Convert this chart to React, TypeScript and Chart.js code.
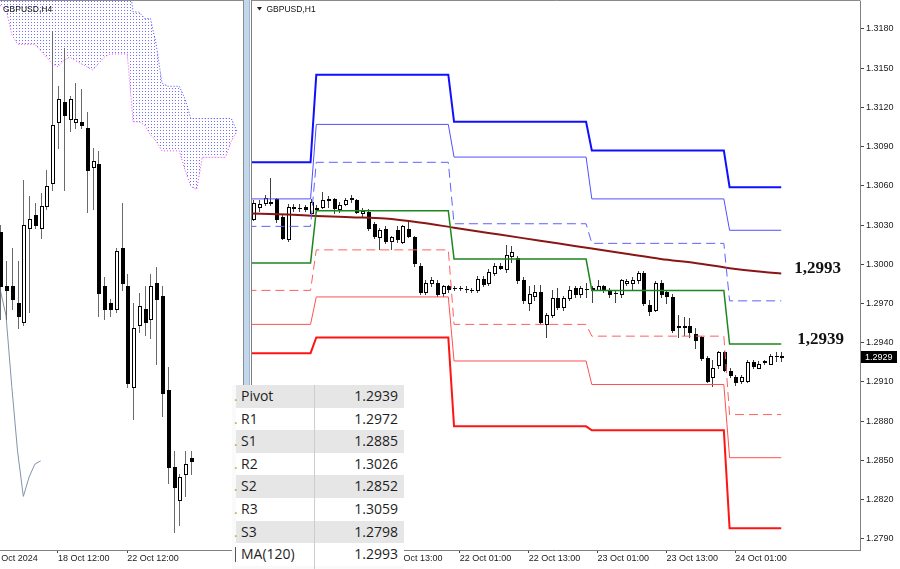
import React, { useEffect, useRef } from 'react';
import { Chart, registerables } from 'chart.js';
Chart.register(...registerables);

const SANS = '"Liberation Sans", Arial, sans-serif';

// ---------------- Right panel: GBPUSD,H1 (bar index 0 = 21 Oct 00:00) ----------------
const H1_FIRST = -11;
const H1_OPEN = [
  1.3035, 1.3044, 1.3047, 1.3047, 1.3050, 1.3036, 1.3019, 1.3043, 1.3043, 1.3044, 1.3039, 1.3042,
  1.3044, 1.3049, 1.3050, 1.3042, 1.3046, 1.3050, 1.3049, 1.3039, 1.3040, 1.3031, 1.3021, 1.3027,
  1.3018, 1.3026, 1.3017, 1.3027, 1.3021, 1.2999, 1.2979, 1.2986, 1.2986, 1.2978, 1.2983, 1.2982,
  1.2982, 1.2981, 1.2980, 1.2980, 1.2989, 1.2986, 1.2993, 1.2999, 1.2996, 1.3006, 1.3005, 1.2988,
  1.2970, 1.2976, 1.2979, 1.2954, 1.2961, 1.2974, 1.2967, 1.2974, 1.2982, 1.2977, 1.2981, 1.2982,
  1.2980, 1.2983, 1.2980, 1.2978, 1.2977, 1.2986, 1.2986, 1.2988, 1.2993, 1.2969, 1.2965, 1.2986,
  1.2979, 1.2975, 1.2953, 1.2952, 1.2953, 1.2947, 1.2944, 1.2928, 1.2914, 1.2923, 1.2933, 1.2918,
  1.2914, 1.2911, 1.2911, 1.2925, 1.2921, 1.2925, 1.2924, 1.2930, 1.2930,
];
const H1_HIGH = [
  1.3049, 1.3049, 1.3053, 1.3066, 1.3051, 1.3038, 1.3046, 1.3046, 1.3046, 1.3045, 1.3050, 1.3045,
  1.3055, 1.3052, 1.3051, 1.3048, 1.3051, 1.3053, 1.3050, 1.3043, 1.3042, 1.3032, 1.3028, 1.3029,
  1.3022, 1.3029, 1.3030, 1.3032, 1.3022, 1.3001, 1.2988, 1.2990, 1.2988, 1.2984, 1.2984, 1.2983,
  1.2983, 1.2983, 1.2982, 1.2991, 1.2991, 1.2996, 1.3001, 1.3001, 1.3015, 1.3014, 1.3006, 1.2990,
  1.2983, 1.2984, 1.2984, 1.2963, 1.2980, 1.2982, 1.2976, 1.2983, 1.2983, 1.2983, 1.2986, 1.2983,
  1.2988, 1.2984, 1.2982, 1.2980, 1.2989, 1.2989, 1.2990, 1.2995, 1.2995, 1.2973, 1.2987, 1.2988,
  1.2980, 1.2977, 1.2961, 1.2960, 1.2959, 1.2951, 1.2945, 1.2930, 1.2927, 1.2934, 1.2934, 1.2921,
  1.2915, 1.2915, 1.2927, 1.2927, 1.2926, 1.2927, 1.2931, 1.2933, 1.2933,
];
const H1_LOW = [
  1.3034, 1.3041, 1.3045, 1.3045, 1.3032, 1.3019, 1.3018, 1.3041, 1.3041, 1.3041, 1.3038, 1.3040,
  1.3043, 1.3044, 1.3039, 1.3040, 1.3045, 1.3048, 1.3039, 1.3037, 1.3026, 1.3020, 1.3012, 1.3016,
  1.3012, 1.3017, 1.3016, 1.3021, 1.2999, 1.2977, 1.2977, 1.2983, 1.2976, 1.2976, 1.2979, 1.2980,
  1.2980, 1.2979, 1.2979, 1.2979, 1.2983, 1.2984, 1.2992, 1.2996, 1.2994, 1.3002, 1.2986, 1.2970,
  1.2965, 1.2973, 1.2954, 1.2944, 1.2960, 1.2966, 1.2965, 1.2973, 1.2975, 1.2975, 1.2975, 1.2971,
  1.2980, 1.2979, 1.2975, 1.2971, 1.2975, 1.2984, 1.2980, 1.2986, 1.2969, 1.2961, 1.2964, 1.2975,
  1.2970, 1.2948, 1.2944, 1.2946, 1.2944, 1.2936, 1.2927, 1.2910, 1.2907, 1.2921, 1.2918, 1.2914,
  1.2908, 1.2909, 1.2910, 1.2921, 1.2921, 1.2924, 1.2924, 1.2926, 1.2926,
];
const H1_CLOSE = [
  1.3047, 1.3046, 1.3051, 1.3048, 1.3035, 1.3020, 1.3044, 1.3044, 1.3043, 1.3042, 1.3048, 1.3043,
  1.3049, 1.3050, 1.3043, 1.3045, 1.3049, 1.3051, 1.3040, 1.3041, 1.3028, 1.3022, 1.3026, 1.3018,
  1.3021, 1.3019, 1.3029, 1.3022, 1.3001, 1.2979, 1.2986, 1.2988, 1.2977, 1.2983, 1.2981, 1.2982,
  1.2982, 1.2981, 1.2980, 1.2989, 1.2985, 1.2994, 1.2999, 1.2997, 1.3007, 1.3009, 1.2988, 1.2973,
  1.2977, 1.2979, 1.2956, 1.2961, 1.2974, 1.2967, 1.2974, 1.2980, 1.2977, 1.2982, 1.2981, 1.2980,
  1.2983, 1.2980, 1.2977, 1.2978, 1.2988, 1.2987, 1.2988, 1.2993, 1.2970, 1.2964, 1.2986, 1.2977,
  1.2976, 1.2950, 1.2952, 1.2953, 1.2948, 1.2942, 1.2928, 1.2911, 1.2921, 1.2933, 1.2919, 1.2915,
  1.2910, 1.2914, 1.2925, 1.2922, 1.2924, 1.2926, 1.2930, 1.2930, 1.2929,
];

// daily pivot levels: 18 Oct, 21 Oct, 22 Oct, 23 Oct, 24 Oct
const DAY_FIRST = [-12, 0, 24, 48, 72];
const DAY_LAST = [-1, 23, 47, 71, 81];
const R3 = [1.3078, 1.3145, 1.3109, 1.3087, 1.3059];
const R2 = [1.3050, 1.3107, 1.3082, 1.3050, 1.3026];
const R1 = [1.3029, 1.3078, 1.3031, 1.3016, 1.2972];
const PIVOT = [1.3001, 1.3041, 1.3004, 1.2980, 1.2939];
const S1 = [1.2980, 1.3011, 1.2954, 1.2945, 1.2885];
const S2 = [1.2954, 1.2975, 1.2926, 1.2908, 1.2852];
const S3 = [1.2932, 1.2944, 1.2876, 1.2873, 1.2798];

const MA_IDX = [-12, -5, 0, 6, 12, 18, 24, 30, 36, 42, 48, 54, 60, 66, 72, 78, 81];
const MA_VAL = [1.3039, 1.3038, 1.3037, 1.3036, 1.3035, 1.3032, 1.3028, 1.3024, 1.3020, 1.3016, 1.3012, 1.3008, 1.3004, 1.3001, 1.2997, 1.2994, 1.2993];

const H1_TICK_IDX = [13, 25, 37, 49, 61, 73];
const H1_TICK_LABELS = ['21 Oct 13:00', '22 Oct 01:00', '22 Oct 13:00', '23 Oct 01:00', '23 Oct 13:00', '24 Oct 01:00'];
const Y_TICKS = [1.318, 1.315, 1.312, 1.309, 1.306, 1.303, 1.3, 1.297, 1.294, 1.291, 1.288, 1.285, 1.282, 1.279];

// ---------------- Left panel: GBPUSD,H4 (bar index 0 = 18 Oct 12:00) ----------------
const H4_FIRST = -10;
const H4_OPEN = [
  1.3000, 1.2983, 1.2983, 1.2978, 1.2972, 1.3001, 1.3005, 1.3001, 1.3008, 1.3015, 1.3034, 1.3040,
  1.3035, 1.3034, 1.3034, 1.3032, 1.3020, 1.3021, 1.2983, 1.2978, 1.2976, 1.2995, 1.2983, 1.2952,
  1.2971, 1.2976, 1.2973, 1.2984, 1.2980, 1.2951, 1.2927, 1.2917, 1.2925, 1.2930,
];
const H4_HIGH = [
  1.3002, 1.2991, 1.2995, 1.2991, 1.3016, 1.3011, 1.3009, 1.3012, 1.3019, 1.3062, 1.3045, 1.3057,
  1.3042, 1.3046, 1.3044, 1.3037, 1.3026, 1.3025, 1.2986, 1.2979, 1.2995, 1.3009, 1.2987, 1.2978,
  1.2981, 1.2983, 1.2987, 1.2989, 1.2983, 1.2958, 1.2932, 1.2925, 1.2932, 1.2932,
];
const H4_LOW = [
  1.2973, 1.2973, 1.2976, 1.2970, 1.2971, 1.2975, 1.3001, 1.2998, 1.3007, 1.3013, 1.3026, 1.3013,
  1.3031, 1.3032, 1.3032, 1.3006, 1.3007, 1.2974, 1.2973, 1.2974, 1.2975, 1.2982, 1.2952, 1.2942,
  1.2969, 1.2968, 1.2967, 1.2959, 1.2943, 1.2922, 1.2907, 1.2909, 1.2918, 1.2925,
];
const H4_CLOSE = [
  1.2983, 1.2982, 1.2979, 1.2974, 1.3002, 1.3004, 1.3002, 1.3008, 1.3014, 1.3033, 1.3041, 1.3036,
  1.3041, 1.3035, 1.3033, 1.3019, 1.3022, 1.2981, 1.2976, 1.2976, 1.2994, 1.2984, 1.2953, 1.2970,
  1.2977, 1.2972, 1.2983, 1.2979, 1.2950, 1.2927, 1.2921, 1.2924, 1.2928, 1.2929,
];

const CLOUD_FIRST = -10;
const SENKOU_B = [
  1.3088, 1.3088, 1.3088, 1.3087, 1.3087, 1.3087, 1.3086, 1.3086, 1.3086, 1.3086, 1.3085, 1.3085,
  1.3085, 1.3085, 1.3085, 1.3084, 1.3084, 1.3084, 1.3083, 1.3083, 1.3082, 1.3082, 1.3082,
  1.3068, 1.3068, 1.3066, 1.3066, 1.3058, 1.3046, 1.3045, 1.3045, 1.3045, 1.3041, 1.3035, 1.3035,
  1.3035, 1.3035, 1.3035, 1.3035, 1.3035, 1.3035, 1.3031,
];
const SENKOU_A = [
  1.3070, 1.3069, 1.3061, 1.3058, 1.3058, 1.3058, 1.3058, 1.3056, 1.3054, 1.3052, 1.3051, 1.3053,
  1.3054, 1.3053, 1.3052, 1.3051, 1.3050, 1.3052, 1.3054, 1.3055, 1.3055, 1.3055, 1.3055,
  1.3034, 1.3034, 1.3033, 1.3030, 1.3028, 1.3025, 1.3025, 1.3025, 1.3025, 1.3019, 1.3014, 1.3013,
  1.3023, 1.3023, 1.3023, 1.3023, 1.3023, 1.3028, 1.3031,
];
const CHIKOU_FIRST = -10;
const CHIKOU = [1.2982, 1.2974, 1.2952, 1.2932, 1.2918, 1.2924, 1.2928, 1.2929];

const H4_TICK_IDX = [-12, 0, 12];
const H4_TICK_LABELS = ['16 Oct 2024', '18 Oct 12:00', '22 Oct 12:00'];

const TABLE_LABELS = ['Pivot', 'R1', 'S1', 'R2', 'S2', 'R3', 'S3', 'MA(120)'];
const TABLE_SERIES = [PIVOT, R1, S1, R2, S2, R3, S3, MA_VAL];

// ---------------- helpers ----------------
const last = (a: number[]) => a[a.length - 1];
const series = (first: number, vals: number[]) => vals.map((v, i) => ({ x: first + i, y: v }));
const levelData = (vals: number[]) =>
  DAY_FIRST.flatMap((f, d) => [{ x: f, y: vals[d] }, { x: DAY_LAST[d], y: vals[d] }]);

function makeCandles(id: string, first: number, O: number[], H: number[], L: number[], C: number[], wick: string, hook: string) {
  const plugin: any = { id };
  plugin[hook] = (chart: any) => {
    const { ctx, chartArea: a } = chart;
    const xs = chart.scales.x;
    const ys = chart.scales.y;
    ctx.save();
    ctx.beginPath();
    ctx.rect(a.left, a.top, a.right - a.left, a.bottom - a.top);
    ctx.clip();
    ctx.lineWidth = 1;
    for (let i = 0; i < O.length; i++) {
      const cx = Math.round(xs.getPixelForValue(first + i));
      const yH = Math.round(ys.getPixelForValue(H[i]));
      const yL = Math.round(ys.getPixelForValue(L[i]));
      const yO = Math.round(ys.getPixelForValue(O[i]));
      const yC = Math.round(ys.getPixelForValue(C[i]));
      ctx.strokeStyle = wick;
      ctx.beginPath();
      ctx.moveTo(cx + 0.5, yH);
      ctx.lineTo(cx + 0.5, yL + 1);
      ctx.stroke();
      const top = Math.min(yO, yC);
      const bot = Math.max(yO, yC);
      if (C[i] < O[i]) {
        ctx.fillStyle = '#000';
        ctx.fillRect(cx - 1, top, 4, Math.max(1, bot - top + 1));
      } else if (C[i] > O[i]) {
        ctx.fillStyle = '#fff';
        ctx.fillRect(cx - 1, top, 4, bot - top + 1);
        ctx.strokeStyle = '#000';
        ctx.strokeRect(cx - 0.5, top + 0.5, 3, Math.max(1, bot - top));
      } else {
        ctx.fillStyle = '#000';
        ctx.fillRect(cx - 1, yO, 4, 1);
      }
    }
    ctx.restore();
  };
  return plugin;
}

const axisFont = { family: SANS, size: 9 };

function buildLeft(canvas: HTMLCanvasElement) {
  const ctx = canvas.getContext('2d')!;
  const pc = document.createElement('canvas');
  pc.width = 3;
  pc.height = 3;
  const p = pc.getContext('2d')!;
  p.fillStyle = '#6e6eff';
  p.fillRect(1, 1, 1, 1);
  const pattern = ctx.createPattern(pc, 'repeat');

  const decor = {
    id: 'leftDecor',
    afterDraw(chart: any) {
      const c = chart.ctx;
      c.save();
      c.strokeStyle = '#8a8a8a';
      c.lineWidth = 1;
      c.beginPath();
      c.moveTo(0, 0.5);
      c.lineTo(chart.width, 0.5);
      c.stroke();
      c.font = `8.5px ${SANS}`;
      c.fillStyle = '#111';
      c.textBaseline = 'middle';
      c.textAlign = 'left';
      c.fillText('GBPUSD,H4', 3, 9.5);
      c.restore();
    },
  };

  return new Chart(canvas, {
    type: 'line',
    data: {
      datasets: [
        { data: series(CLOUD_FIRST, SENKOU_B), borderColor: '#4040ff', borderWidth: 1, borderDash: [1, 2], pointRadius: 0, fill: false },
        { data: series(CLOUD_FIRST, SENKOU_A), borderColor: '#ee40ee', borderWidth: 1, borderDash: [1, 2], pointRadius: 0, fill: '-1', backgroundColor: pattern as any },
        { data: series(CHIKOU_FIRST, CHIKOU), borderColor: '#8194aa', borderWidth: 1, pointRadius: 0, fill: false },
      ],
    } as any,
    options: {
      animation: false,
      responsive: false,
      devicePixelRatio: 1,
      events: [],
      layout: { padding: { top: 1, left: 0, right: 0, bottom: 0 } },
      plugins: { legend: { display: false }, tooltip: { enabled: false } },
      scales: {
        x: {
          type: 'linear',
          min: -10.04,
          max: 32.03,
          afterBuildTicks: (s: any) => { s.ticks = H4_TICK_IDX.map((v) => ({ value: v })); },
          afterFit: (s: any) => { s.height = 19; s.paddingLeft = 0; s.paddingRight = 0; },
          ticks: { autoSkip: false, maxRotation: 0, align: 'start', padding: 0, font: axisFont, color: '#1a1a1a', callback: (_v: any, i: number) => H4_TICK_LABELS[i] },
          grid: { drawOnChartArea: false, drawTicks: true, tickLength: 3, color: '#444' },
          border: { display: true, color: '#808080' },
        },
        y: { display: false, min: 1.29014, max: 1.30714 },
      },
    } as any,
    plugins: [makeCandles('h4candles', H4_FIRST, H4_OPEN, H4_HIGH, H4_LOW, H4_CLOSE, '#6a6a6a', 'afterDatasetsDraw'), decor],
  });
}

function buildRight(canvas: HTMLCanvasElement) {
  const lvl = (vals: number[], color: string, width: number, dash: number[] = []) => ({
    data: levelData(vals), borderColor: color, borderWidth: width, borderDash: dash, pointRadius: 0, fill: false,
  });

  const decor = {
    id: 'rightDecor',
    afterDraw(chart: any) {
      const c = chart.ctx;
      const a = chart.chartArea;
      const xs = chart.scales.x;
      const ys = chart.scales.y;
      c.save();
      c.strokeStyle = '#8a8a8a';
      c.lineWidth = 1;
      c.beginPath();
      c.moveTo(0, 0.5);
      c.lineTo(a.right + 0.5, 0.5);
      c.stroke();
      // title
      c.fillStyle = '#222';
      c.beginPath();
      c.moveTo(5, 7);
      c.lineTo(10, 7);
      c.lineTo(7.5, 10.5);
      c.closePath();
      c.fill();
      c.font = `8.5px ${SANS}`;
      c.fillStyle = '#111';
      c.textBaseline = 'middle';
      c.textAlign = 'left';
      c.fillText('GBPUSD,H1', 14.5, 9.5);
      // level annotations
      const endX = xs.getPixelForValue(last(DAY_LAST));
      c.font = 'bold 17px "Liberation Serif", "Times New Roman", serif';
      c.fillStyle = '#111';
      c.textBaseline = 'alphabetic';
      c.fillText(last(MA_VAL).toFixed(4).replace('.', ','), endX + 13, ys.getPixelForValue(last(MA_VAL)));
      c.fillText(last(PIVOT).toFixed(4).replace('.', ','), endX + 16, ys.getPixelForValue(last(PIVOT)));
      // current price box
      const close = last(H1_CLOSE);
      const yP = Math.round(ys.getPixelForValue(close));
      c.fillStyle = '#000';
      c.fillRect(a.right + 1, yP - 6, 36, 12);
      c.fillStyle = '#fff';
      c.font = `9px ${SANS}`;
      c.textBaseline = 'middle';
      c.fillText(close.toFixed(4), a.right + 5, yP + 0.5);
      c.restore();
    },
  };

  return new Chart(canvas, {
    type: 'line',
    data: {
      datasets: [
        lvl(R3, '#1010ff', 2),
        lvl(R2, '#5050ff', 1),
        lvl(R1, '#6060ff', 1, [9, 5]),
        lvl(PIVOT, '#1e861e', 1.5),
        lvl(S1, '#ff6060', 1, [9, 5]),
        lvl(S2, '#ff5050', 1),
        lvl(S3, '#ff1414', 2),
        { data: MA_IDX.map((x, i) => ({ x, y: MA_VAL[i] })), borderColor: '#8b1515', borderWidth: 2, pointRadius: 0, fill: false, cubicInterpolationMode: 'monotone' },
      ],
    } as any,
    options: {
      animation: false,
      responsive: false,
      devicePixelRatio: 1,
      events: [],
      layout: { padding: { top: 1, left: 0, right: 0, bottom: 0 } },
      plugins: { legend: { display: false }, tooltip: { enabled: false } },
      scales: {
        x: {
          type: 'linear',
          min: -11.2,
          max: 94.72,
          afterBuildTicks: (s: any) => { s.ticks = H1_TICK_IDX.map((v) => ({ value: v })); },
          afterFit: (s: any) => { s.height = 19; s.paddingLeft = 0; s.paddingRight = 0; },
          ticks: { autoSkip: false, maxRotation: 0, align: 'start', padding: 0, font: axisFont, color: '#1a1a1a', callback: (_v: any, i: number) => H1_TICK_LABELS[i] },
          grid: { drawOnChartArea: false, drawTicks: true, tickLength: 3, color: '#444' },
          border: { display: true, color: '#808080' },
        },
        y: {
          position: 'right',
          min: 1.27814,
          max: 1.32014,
          afterBuildTicks: (s: any) => { s.ticks = Y_TICKS.map((v) => ({ value: v })); },
          afterFit: (s: any) => { s.width = 40; s.paddingTop = 0; s.paddingBottom = 0; },
          ticks: { padding: 2, font: axisFont, color: '#1a1a1a', callback: (v: any) => Number(v).toFixed(4) },
          grid: { drawOnChartArea: false, drawTicks: true, tickLength: 4, color: '#444' },
          border: { display: true, color: '#808080' },
        },
      },
    } as any,
    plugins: [makeCandles('h1candles', H1_FIRST, H1_OPEN, H1_HIGH, H1_LOW, H1_CLOSE, '#404040', 'beforeDatasetsDraw'), decor],
  });
}

export default function App() {
  const leftRef = useRef<HTMLCanvasElement>(null);
  const rightRef = useRef<HTMLCanvasElement>(null);

  useEffect(() => {
    const l = buildLeft(leftRef.current!);
    const r = buildRight(rightRef.current!);
    return () => {
      l.destroy();
      r.destroy();
    };
  }, []);

  const rowH = 22.6;
  return (
    <div style={{ position: 'fixed', left: 0, top: 0, width: 900, height: 569, background: '#fff', overflow: 'hidden' }}>
      <canvas ref={leftRef} width={243} height={569} style={{ position: 'absolute', left: 0, top: 0 }} />
      <div
        style={{
          position: 'absolute', left: 243, top: 0, width: 9, height: 569,
          background: 'linear-gradient(to right, #8c8c8c 0 1px, #c3d7ec 1px 6px, #9fb6ce 6px 7px, #ffffff 7px 8px, #808080 8px 9px)',
        }}
      />
      <canvas ref={rightRef} width={648} height={569} style={{ position: 'absolute', left: 252, top: 0 }} />
      <div
        style={{
          position: 'absolute', left: 232, top: 385, width: 172, height: 184,
          fontFamily: '"Open Sans", "Noto Sans", sans-serif', fontSize: 14, color: '#1e1e1e', background: '#fafafa',
        }}
      >
        {TABLE_LABELS.map((lab, i) => (
          <div
            key={lab}
            style={{
              position: 'absolute', left: 4, top: i * rowH, width: 168, height: rowH,
              background: i % 2 === 0 ? '#e6e6e6' : '#ffffff', lineHeight: `${rowH}px`,
            }}
          >
            {i < TABLE_LABELS.length - 1 ? (
              <span style={{ position: 'absolute', left: -2, top: 0, color: '#c9a227' }}>.</span>
            ) : (
              <span style={{ position: 'absolute', left: -1, top: 4, width: 1, height: 15, background: '#555' }} />
            )}
            <span style={{ position: 'absolute', left: 5, top: 0 }}>{lab}</span>
            <span style={{ position: 'absolute', right: 6, top: 0 }}>{last(TABLE_SERIES[i]).toFixed(4)}</span>
          </div>
        ))}
        <div style={{ position: 'absolute', left: 82, top: 0, width: 1, height: 184, background: '#cdcdcd' }} />
      </div>
    </div>
  );
}
